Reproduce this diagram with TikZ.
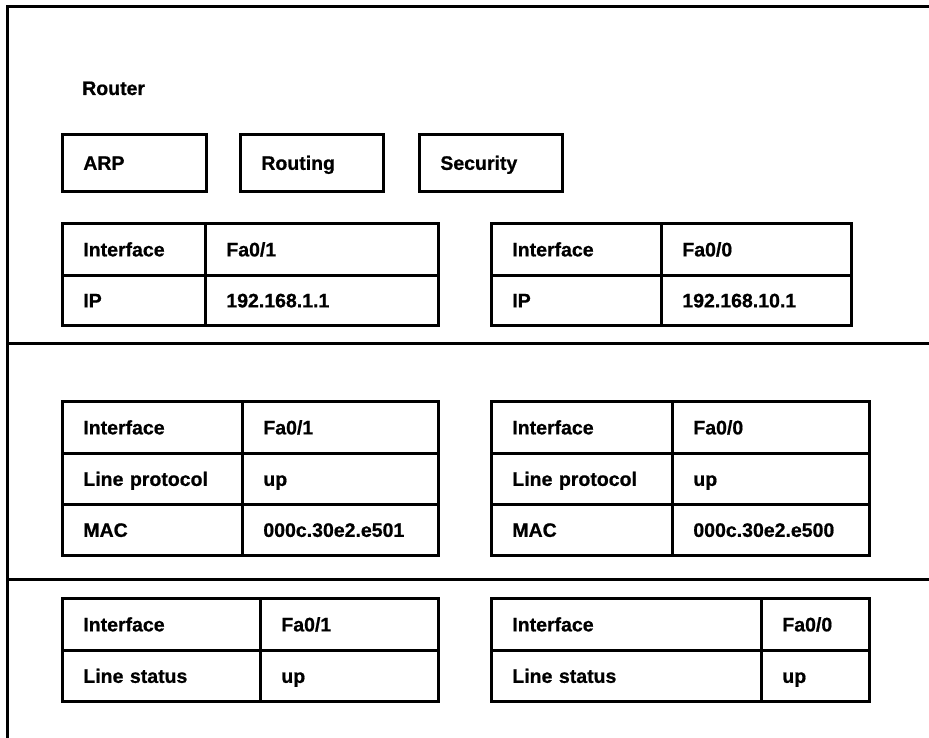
\documentclass[tikz,border=0pt]{standalone}
\usepackage{fontspec}
\setmainfont{Liberation Sans}[BoldFeatures={FakeBold=0.8}]
\begin{document}
\begin{tikzpicture}[x=1pt,y=-1pt,
  lbl/.style={font=\bfseries\fontsize{19.5}{22}\selectfont, text height=14pt, text depth=0pt},
  cell/.style={draw, line width=2.7pt, anchor=north west, inner xsep=21pt, inner ysep=0pt,
    align=left, lbl},
  frameline/.style={line width=3pt}]
\useasboundingbox (0,0) rectangle (929,738);
% frame
\coordinate (fbl) at (7,738);
\coordinate (ftl) at (7,7);
\coordinate (ftr) at (929,7);
\coordinate (d1l) at (7,343);
\coordinate (d1r) at (929,343);
\coordinate (d2l) at (7,579);
\coordinate (d2r) at (929,579);
\draw[frameline] (fbl) -- (ftl) -- (ftr);
\draw[frameline] (d1l) -- (d1r);
\draw[frameline] (d2l) -- (d2r);
% title
\node[lbl, anchor=west, inner sep=0pt] (router) at (82,88) {Router};
% function boxes
\node[cell, minimum height=57pt, text width=102pt] (arp) at (61,133) {ARP};
\node[cell, minimum height=57pt, text width=101pt] (routing) at (239,133) {Routing};
\node[cell, minimum height=57pt, text width=101pt] (security) at (418,133) {Security};
% table 1
\node[cell, minimum height=52pt, text width=101pt] (t1a) at (61,222) {Interface};
\node[cell, minimum height=52pt, text width=191pt] (t1b) at (204,222) {Fa0/1};
\node[cell, minimum height=50pt, text width=101pt] (t1c) at (61,274) {IP};
\node[cell, minimum height=50pt, text width=191pt] (t1d) at (204,274) {192.168.1.1};
% table 2
\node[cell, minimum height=52pt, text width=128pt] (t2a) at (490,222) {Interface};
\node[cell, minimum height=52pt, text width=148pt] (t2b) at (660,222) {Fa0/0};
\node[cell, minimum height=50pt, text width=128pt] (t2c) at (490,274) {IP};
\node[cell, minimum height=50pt, text width=148pt] (t2d) at (660,274) {192.168.10.1};
% table 3
\node[cell, minimum height=52pt, text width=138pt] (t3a) at (61,400) {Interface};
\node[cell, minimum height=52pt, text width=154pt] (t3b) at (241,400) {Fa0/1};
\node[cell, minimum height=51pt, text width=138pt] (t3c) at (61,452) {Line protocol};
\node[cell, minimum height=51pt, text width=154pt] (t3d) at (241,452) {up};
\node[cell, minimum height=51pt, text width=138pt] (t3e) at (61,503) {MAC};
\node[cell, minimum height=51pt, text width=154pt] (t3f) at (241,503) {000c.30e2.e501};
% table 4
\node[cell, minimum height=52pt, text width=139pt] (t4a) at (490,400) {Interface};
\node[cell, minimum height=52pt, text width=155pt] (t4b) at (671,400) {Fa0/0};
\node[cell, minimum height=51pt, text width=139pt] (t4c) at (490,452) {Line protocol};
\node[cell, minimum height=51pt, text width=155pt] (t4d) at (671,452) {up};
\node[cell, minimum height=51pt, text width=139pt] (t4e) at (490,503) {MAC};
\node[cell, minimum height=51pt, text width=155pt] (t4f) at (671,503) {000c.30e2.e500};
% table 5
\node[cell, minimum height=52pt, text width=156pt] (t5a) at (61,597) {Interface};
\node[cell, minimum height=52pt, text width=136pt] (t5b) at (259,597) {Fa0/1};
\node[cell, minimum height=51pt, text width=156pt] (t5c) at (61,649) {Line status};
\node[cell, minimum height=51pt, text width=136pt] (t5d) at (259,649) {up};
% table 6
\node[cell, minimum height=52pt, text width=228pt] (t6a) at (490,597) {Interface};
\node[cell, minimum height=52pt, text width=66pt] (t6b) at (760,597) {Fa0/0};
\node[cell, minimum height=51pt, text width=228pt] (t6c) at (490,649) {Line status};
\node[cell, minimum height=51pt, text width=66pt] (t6d) at (760,649) {up};
\end{tikzpicture}
\end{document}
